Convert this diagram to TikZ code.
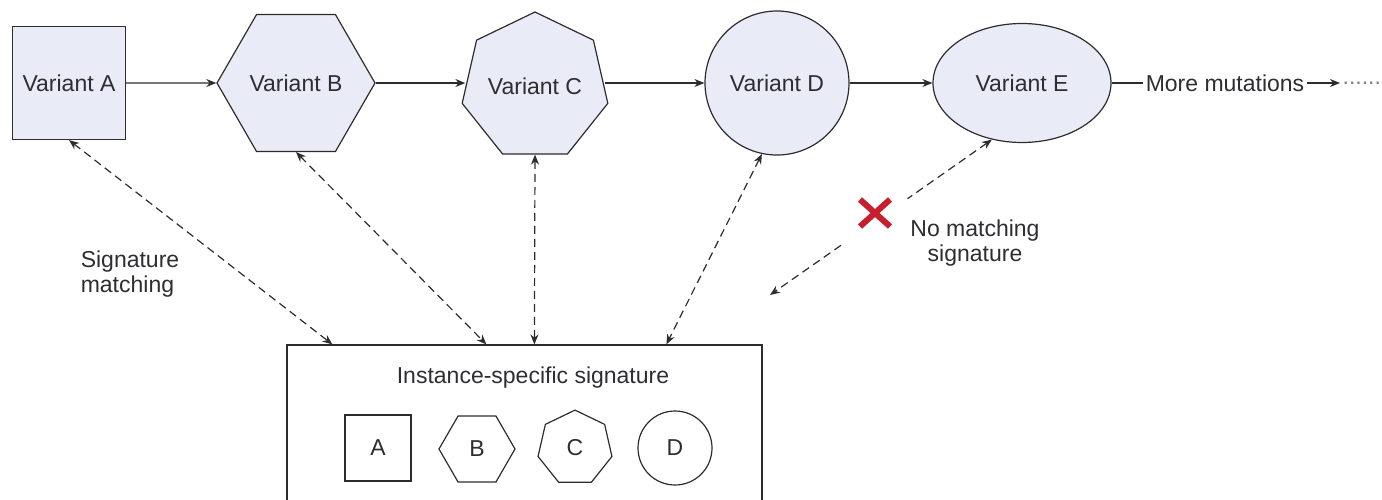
\documentclass[tikz,border=0pt]{standalone}
\usepackage{fontspec}
\setmainfont{Liberation Sans}
\usetikzlibrary{arrows.meta, shapes.geometric, shapes.misc, calc}

\definecolor{variantfill}{RGB}{233,236,246}
\definecolor{linegray}{RGB}{45,45,45}
\definecolor{textgray}{RGB}{45,45,50}
\definecolor{crossred}{RGB}{200,30,45}

\begin{document}
\begin{tikzpicture}[
            x = 0.5pt, y = -0.5pt, % one unit is one pixel of the sketch
            > = {Stealth[length=5pt, width=4pt]}, % arrow head style
            font = \fontsize{11.5}{12.5}\selectfont,
            text = textgray,
            semithick % line style
        ]

        \tikzstyle{variant}=[
            draw = linegray,
            fill = variantfill,
            inner sep = 0pt
        ]
        \tikzstyle{mini}=[
            draw = linegray,
            inner sep = 0pt
        ]
        \tikzstyle{sigline}=[
            linegray,
            dash pattern = on 4pt off 2.5pt
        ]

        \clip (0,0) rectangle (1382,499);

        % the mutating variants
        \node[variant, rectangle, minimum size=56.5pt] (A) at (69,83) {Variant A};
        \node[variant, regular polygon, regular polygon sides=6, minimum size=79pt] (B) at (296,83) {Variant B};
        \node[variant, regular polygon, regular polygon sides=7, minimum size=74.7pt] (C) at (535,86.7) {Variant C};
        \node[variant, circle, minimum size=72pt] (D) at (777,83) {Variant D};
        \node[variant, ellipse, minimum width=89pt, minimum height=59.5pt] (E) at (1022,83) {Variant E};
        \node[inner sep=1pt] (more) at (1225,83) {More mutations};
        \node[inner sep=1pt, anchor=west, text=gray] (dots) at (1340,83) {......};

        \draw[->, linegray] (A) -- (B);
        \draw[->, linegray] (B.east) -- (B.east -| C.west);
        \draw[->, linegray] (C.east |- D.west) -- (D.west);
        \draw[->, linegray] (D) -- (E);
        \draw[linegray] (E) -- (more);
        \draw[->, linegray] (more) -- (dots);

        % the signature box
        \node[draw=linegray, minimum width=237.5pt, minimum height=85pt] (sig) at (524.5,430) {};
        \node (sigtitle) at (533,378) {Instance-specific signature};
        \node[mini, rectangle, minimum size=33pt] (sa) at (378,448) {A};
        \node[mini, regular polygon, regular polygon sides=6, minimum size=38pt] (sb) at (477,449) {B};
        \node[mini, regular polygon, regular polygon sides=7, minimum size=37.9pt] (sc) at (575,448) {C};
        \node[mini, circle, minimum size=37pt] (sd) at (675,448) {D};

        % signature matching
        \draw[sigline, <->] (A.south) -- ($(sig.north west)+(46,0)$);
        \draw[sigline, <->] (B.south) -- ($(sig.north west)+(200,0)$);
        \draw[sigline, <->] (C.south) -- ($(sig.north west)+(248,0)$);
        \draw[sigline, <->] (D.258) -- ($(sig.north west)+(380,0)$);

        \coordinate (cut) at (770,295);
        \draw[sigline, <-] (E.242) -- ($(E.242)!0.38!(cut)$);
        \draw[sigline, ->] ($(E.242)!0.68!(cut)$) -- (cut);
        \node[cross out, draw=crossred, line width=3pt, minimum width=12pt, minimum height=10.5pt, inner sep=0pt] (nox) at (875,213) {};

        \node[align=left] (match) at (130,274) {Signature\\matching};
        \node[align=center] (nomatch) at (975,243) {No matching\\signature};

  \end{tikzpicture}
\end{document}
